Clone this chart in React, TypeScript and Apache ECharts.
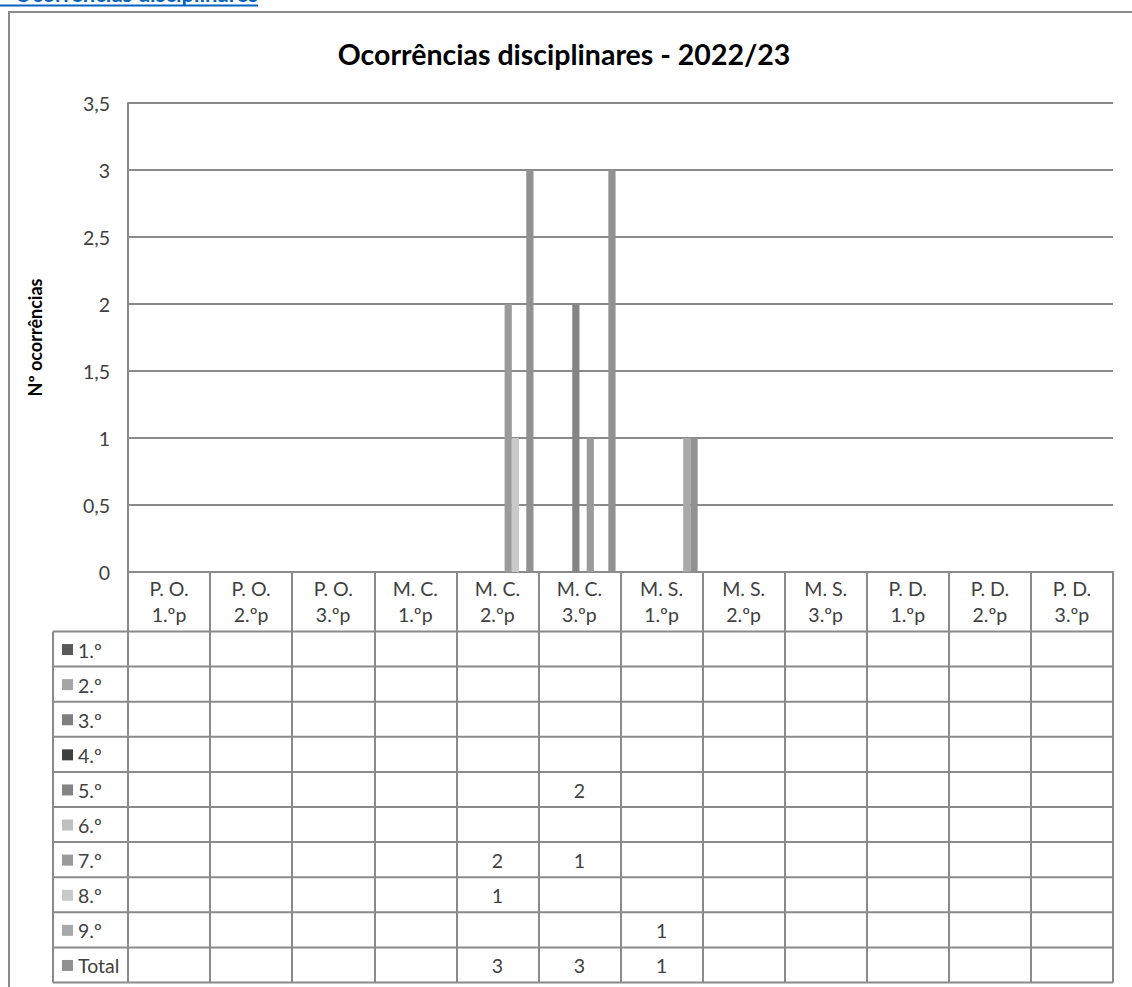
import React, { useEffect, useRef } from "react";
import * as echarts from "echarts";

const categories = [
  "P. O.\n1.ºp", "P. O.\n2.ºp", "P. O.\n3.ºp",
  "M. C.\n1.ºp", "M. C.\n2.ºp", "M. C.\n3.ºp",
  "M. S.\n1.ºp", "M. S.\n2.ºp", "M. S.\n3.ºp",
  "P. D.\n1.ºp", "P. D.\n2.ºp", "P. D.\n3.ºp",
];
const seriesNames = ["1.º", "2.º", "3.º", "4.º", "5.º", "6.º", "7.º", "8.º", "9.º", "Total"];
const seriesColors = ["#595959", "#a5a5a5", "#7f7f7f", "#404040", "#848484", "#bfbfbf", "#9a9a9a", "#c9c9c9", "#a8a8a8", "#919191"];

const _ = null;
const v1 = [_, _, _, _, _, _, _, _, _, _, _, _];
const v2 = [_, _, _, _, _, _, _, _, _, _, _, _];
const v3 = [_, _, _, _, _, _, _, _, _, _, _, _];
const v4 = [_, _, _, _, _, _, _, _, _, _, _, _];
const v5 = [_, _, _, _, _, 2, _, _, _, _, _, _];
const v6 = [_, _, _, _, _, _, _, _, _, _, _, _];
const v7 = [_, _, _, _, 2, 1, _, _, _, _, _, _];
const v8 = [_, _, _, _, 1, _, _, _, _, _, _, _];
const v9 = [_, _, _, _, _, _, 1, _, _, _, _, _];
const vTotal = [_, _, _, _, 3, 3, 1, _, _, _, _, _];
const seriesValues = [v1, v2, v3, v4, v5, v6, v7, v8, v9, vTotal];

const yTicks = { min: 0, max: 3.5, interval: 0.5 };

const FONT = "Lato";
const LINE = "#8a8a8a";
const TEXT = "#404040";
const FS = 19.5;

export default function App() {
  const ref = useRef<HTMLDivElement>(null);
  useEffect(() => {
    document.body.style.margin = "0";
    const chart = echarts.init(ref.current!, undefined, { renderer: "svg" });
    const gridLeft = 128, gridTop = 103, gridW = 985, gridH = 469;
    const tableLeft = 53;
    const rowTop = 631.5, rowH = 35.1;
    const tableBottom = rowTop + rowH * seriesNames.length;

    chart.setOption({
      animation: false,
      textStyle: { fontFamily: FONT },
      title: {
        text: "Ocorrências disciplinares - 2022/23",
        left: 559, top: 34, textAlign: "center",
        textStyle: { fontFamily: FONT, fontSize: 28.5, fontWeight: "bold", color: "#000" },
      },
      grid: { left: gridLeft, top: gridTop, width: gridW, height: gridH },
      xAxis: {
        type: "category",
        data: categories,
        axisLine: { show: true, lineStyle: { color: LINE, width: 2 } },
        axisTick: { show: true, alignWithLabel: false, length: tableBottom - (gridTop + gridH), lineStyle: { color: LINE, width: 2 } },
        axisLabel: { interval: 0, margin: 3, fontSize: FS, lineHeight: 26, color: TEXT, fontFamily: FONT },
      },
      yAxis: {
        type: "value", min: yTicks.min, max: yTicks.max, interval: yTicks.interval,
        name: "Nº ocorrências", nameLocation: "middle", nameRotate: 90, nameGap: 84,
        nameTextStyle: { fontSize: 18, fontWeight: "bold", color: "#000", fontFamily: FONT },
        axisLine: { show: true, lineStyle: { color: LINE, width: 2 } },
        axisTick: { show: false },
        splitLine: { lineStyle: { color: LINE, width: 2 } },
        axisLabel: { margin: 18, fontSize: FS, color: TEXT, fontFamily: FONT, formatter: (v: number) => String(v).replace(".", ",") },
      },
      series: seriesNames.map((n, i) => ({
        type: "bar", name: n, data: seriesValues[i],
        itemStyle: { color: seriesColors[i] },
        barGap: "0%", barCategoryGap: "12%",
      })),
    });

    const graphics: any[] = [];
    // chart border
    graphics.push({ type: "rect", shape: { x: 9, y: 12, width: 1140, height: 1000 }, style: { fill: "none", stroke: LINE, lineWidth: 2 } });
    // link text at top (cut off by the page edge, as in the original)
    graphics.push({ type: "text", x: 258, y: 4, style: { text: "Ocorrências disciplinares", align: "right", verticalAlign: "bottom", fontSize: 22, fontWeight: "bold", fontFamily: FONT, fill: "#0563C1" } });
    graphics.push({ type: "line", shape: { x1: 0, y1: 5.5, x2: 258, y2: 5.5 }, style: { stroke: "#0563C1", lineWidth: 2 } });
    // table horizontal lines
    for (let k = 0; k <= seriesNames.length; k++) {
      const y = rowTop + k * rowH;
      graphics.push({ type: "line", shape: { x1: tableLeft, y1: y, x2: gridLeft + gridW, y2: y }, style: { stroke: LINE, lineWidth: 2 } });
    }
    graphics.push({ type: "line", shape: { x1: tableLeft, y1: rowTop, x2: tableLeft, y2: tableBottom }, style: { stroke: LINE, lineWidth: 2 } });
    // legend column and cell values
    seriesNames.forEach((n, i) => {
      const cy = rowTop + i * rowH + rowH / 2;
      graphics.push({ type: "rect", shape: { x: 62, y: cy - 5, width: 11, height: 11 }, style: { fill: seriesColors[i] } });
      graphics.push({ type: "text", x: 78, y: cy + 1, style: { text: n, align: "left", verticalAlign: "middle", fontSize: FS, fontFamily: FONT, fill: TEXT } });
      seriesValues[i].forEach((v, c) => {
        if (v == null) return;
        const px = chart.convertToPixel({ xAxisIndex: 0 }, c) as number;
        graphics.push({ type: "text", x: px, y: cy + 1, style: { text: String(v), align: "center", verticalAlign: "middle", fontSize: FS, fontFamily: FONT, fill: TEXT } });
      });
    });
    chart.setOption({ graphic: graphics });

    return () => chart.dispose();
  }, []);
  return <div ref={ref} style={{ width: 1132, height: 987 }} />;
}
